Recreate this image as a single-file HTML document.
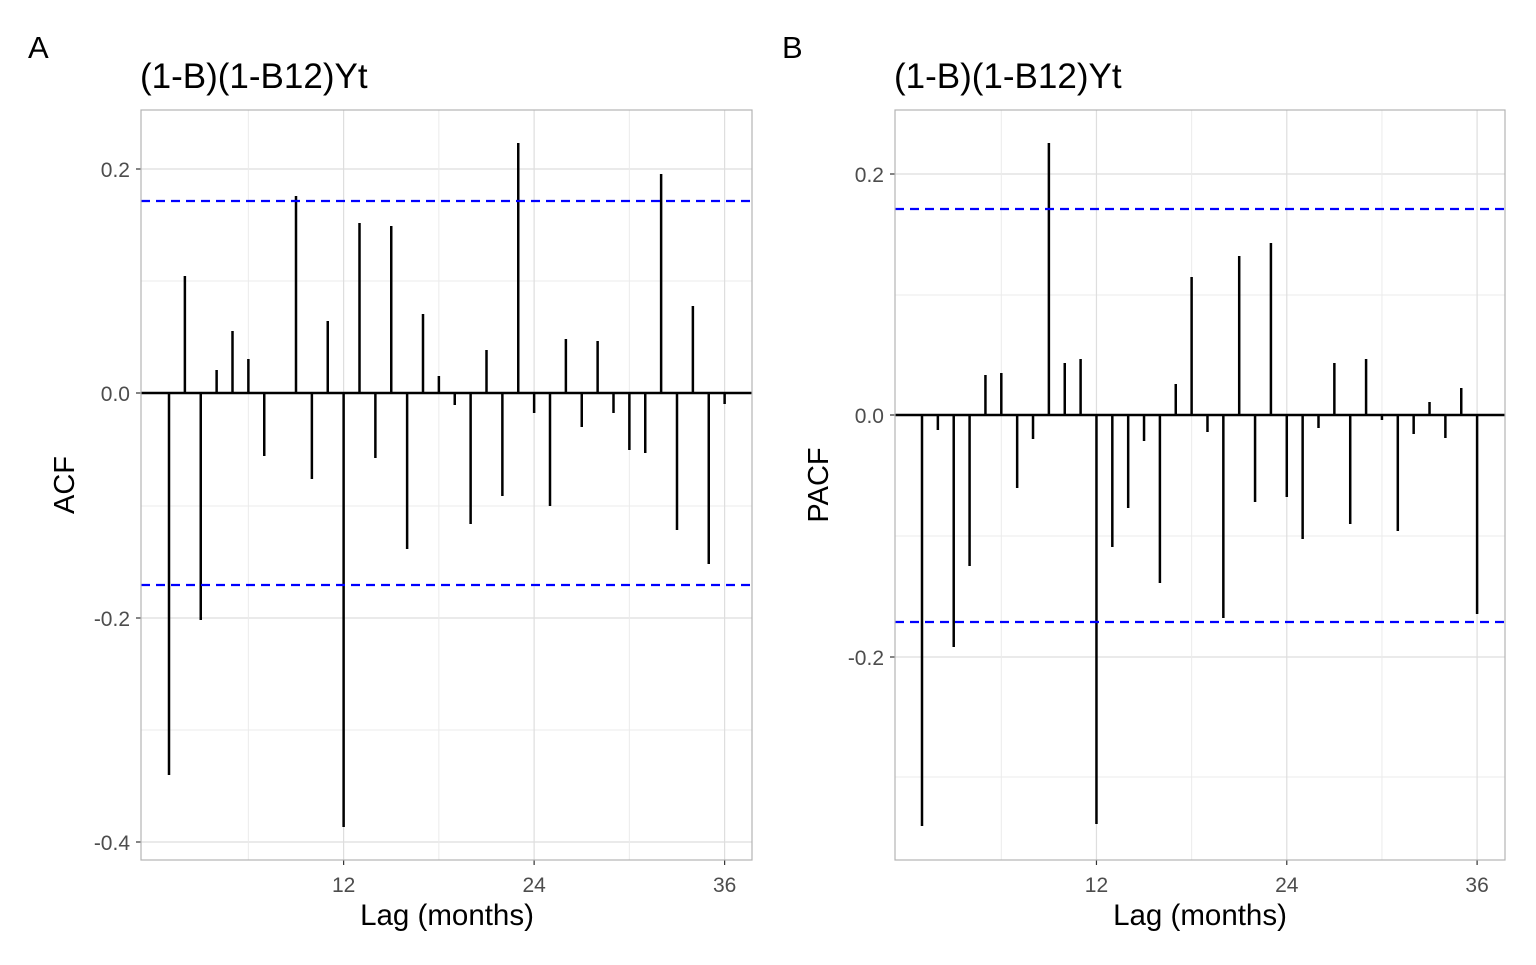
<!DOCTYPE html>
<html><head><style>
body{margin:0;background:#fff;}
svg text{font-family:"Liberation Sans",Arial,sans-serif;}
</style></head><body>
<svg id="s" width="1536" height="960" xmlns="http://www.w3.org/2000/svg">
<rect width="1536" height="960" fill="#fff"/>
<text x="28" y="58" font-size="31">A</text>
<text x="782" y="58" font-size="31">B</text>
<text x="140" y="88" font-size="35">(1-B)(1-B12)Yt</text>
<text x="894" y="88" font-size="35">(1-B)(1-B12)Yt</text>
<text x="447" y="925" font-size="29.5" text-anchor="middle">Lag (months)</text>
<text x="1200" y="925" font-size="29.5" text-anchor="middle">Lag (months)</text>
<text transform="translate(74,485) rotate(-90)" font-size="29" text-anchor="middle">ACF</text>
<text transform="translate(828,485) rotate(-90)" font-size="29" text-anchor="middle">PACF</text>
</svg>
<script>
const s=document.getElementById('s');
function el(t,a){const e=document.createElementNS('http://www.w3.org/2000/svg',t);for(const k in a)e.setAttribute(k,a[k]);s.appendChild(e);return e;}
function panel(x0,x1,y0,y1,lag1,dx,zero,major,minor,labs,xt,tops,dash){
 for(const y of minor) el('line',{x1:x0,x2:x1,y1:y,y2:y,stroke:'#ebebeb','stroke-width':1});
 for(const y of major) el('line',{x1:x0,x2:x1,y1:y,y2:y,stroke:'#dedede','stroke-width':1.2});
 for(const l of [6,18,30]){const x=lag1+(l-1)*dx;el('line',{x1:x,x2:x,y1:y0,y2:y1,stroke:'#ebebeb','stroke-width':1});}
 for(const l of [12,24,36]){const x=lag1+(l-1)*dx;el('line',{x1:x,x2:x,y1:y0,y2:y1,stroke:'#dedede','stroke-width':1.2});
  el('line',{x1:x,x2:x,y1:y1,y2:y1+5,stroke:'#333','stroke-width':1.2});
  const t=el('text',{x:x,y:y1+32,'font-size':21,'text-anchor':'middle',fill:'#4d4d4d'});t.textContent=l;}
 major.forEach((y,i)=>{el('line',{x1:x0-5,x2:x0,y1:y,y2:y,stroke:'#333','stroke-width':1.2});
  const t=el('text',{x:x0-11,y:y+8,'font-size':21,'text-anchor':'end',fill:'#4d4d4d'});t.textContent=labs[i];});
 tops.forEach((y,i)=>{const x=lag1+i*dx;el('line',{x1:x,x2:x,y1:zero,y2:y,stroke:'#000','stroke-width':2.5});});
 el('line',{x1:x0,x2:x1,y1:zero,y2:zero,stroke:'#000','stroke-width':2.5});
 for(const y of dash) el('line',{x1:x0,x2:x1,y1:y,y2:y,stroke:'#0000ff','stroke-width':2.2,'stroke-dasharray':'9,6'});
 el('rect',{x:x0,y:y0,width:x1-x0,height:y1-y0,fill:'none',stroke:'#b3b3b3','stroke-width':1.2});
}
panel(141,752,110,860,169,15.875,393,[169,393,618,842],[281,506,730],['0.2','0.0','-0.2','-0.4'],0,
[775,276,620,370,331,359,456,393,196,479,321,827,223,458,226,549,314,376,405,524,350,496,143,413,506,339,427,341,413,450,453,174,530,306,564,404],[201,585]);
panel(895,1505,110,860,922,15.86,415,[174,415,657],[295,536,777],['0.2','0.0','-0.2'],0,
[826,430,647,566,375,373,488,439,143,363,359,824,547,508,441,583,384,277,432,618,256,502,243,497,539,428,363,524,359,420,531,434,402,438,388,614],[209,622]);
</script>
</body></html>
